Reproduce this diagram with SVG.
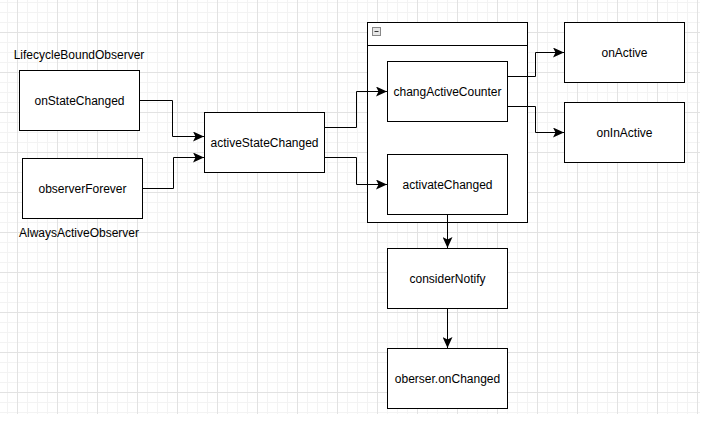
<svg xmlns="http://www.w3.org/2000/svg" width="710" height="434" viewBox="0 0 710 434">
<style>
.box{fill:#ffffff;stroke:#000000;stroke-width:1}
.t{font-family:"Liberation Sans",Arial,sans-serif;font-size:12px;fill:#000000;text-anchor:middle}
.e{fill:none;stroke:#000000;stroke-width:1}
</style>
<defs>
<pattern id="minor" x="7" y="2" width="10" height="10" patternUnits="userSpaceOnUse">
<path d="M0.5,0 V10 M0,0.5 H10" fill="none" stroke="#f3f3f3" stroke-width="1"/>
</pattern>
<pattern id="major" x="17" y="32" width="40" height="40" patternUnits="userSpaceOnUse">
<path d="M0.5,0 V40 M0,0.5 H40" fill="none" stroke="#e2e2e2" stroke-width="1"/>
</pattern>
<marker id="arr" viewBox="0 0 11 10" refX="11" refY="5" markerWidth="11" markerHeight="10" markerUnits="userSpaceOnUse" orient="auto">
<path d="M0,0 L11,5 L0,10 L2.5,5 Z" fill="#000000"/>
</marker>
</defs>
<rect x="0" y="0" width="710" height="434" fill="#ffffff"/>
<rect x="0" y="0" width="700" height="414" fill="url(#minor)"/>
<rect x="0" y="0" width="700" height="414" fill="url(#major)"/>

<g id="container">
<rect class="box" x="367.5" y="22.5" width="160" height="200"/>
<path class="e" d="M367.5,45.5 H527.5"/>
<rect x="372.5" y="27.5" width="8" height="8" fill="#e6e6e6" stroke="#888888" stroke-width="1"/>
<path d="M374.5,31.5 H378.5" stroke="#333333" stroke-width="1"/>
</g>

<g id="connectors">
<path class="e" d="M139.5,100.5 H172.5 V136.5 H204" marker-end="url(#arr)"/>
<path class="e" d="M142.5,188.5 H173.5 V157.5 H204" marker-end="url(#arr)"/>
<path class="e" d="M324.5,127.5 H356.5 V91.5 H387" marker-end="url(#arr)"/>
<path class="e" d="M324.5,157.5 H356.5 V184.5 H387" marker-end="url(#arr)"/>
<path class="e" d="M507.5,76.5 H535.5 V52.5 H564" marker-end="url(#arr)"/>
<path class="e" d="M507.5,106.5 H535.5 V132.5 H564" marker-end="url(#arr)"/>
<path class="e" d="M447.5,214.5 V248" marker-end="url(#arr)"/>
<path class="e" d="M447.5,308.5 V348" marker-end="url(#arr)"/>
</g>

<g id="label-lifecycle"><text class="t" x="79" y="58.5">LifecycleBoundObserver</text></g>
<g id="label-always"><text class="t" x="79" y="236.5">AlwaysActiveObserver</text></g>

<g id="onStateChanged"><rect class="box" x="19.5" y="70.5" width="120" height="60"/><text class="t" x="79.5" y="104.5">onStateChanged</text></g>
<g id="observerForever"><rect class="box" x="22.5" y="158.5" width="120" height="60"/><text class="t" x="82.5" y="192.5">observerForever</text></g>
<g id="activeStateChanged"><rect class="box" x="204.5" y="112.5" width="120" height="60"/><text class="t" x="264.5" y="146.5">activeStateChanged</text></g>
<g id="changActiveCounter"><rect class="box" x="387.5" y="61.5" width="120" height="60"/><text class="t" x="447.5" y="95.5">changActiveCounter</text></g>
<g id="activateChanged"><rect class="box" x="387.5" y="154.5" width="120" height="60"/><text class="t" x="447.5" y="188.5">activateChanged</text></g>
<g id="onActive"><rect class="box" x="564.5" y="22.5" width="120" height="60"/><text class="t" x="624.5" y="56.5">onActive</text></g>
<g id="onInActive"><rect class="box" x="564.5" y="102.5" width="120" height="60"/><text class="t" x="624.5" y="136.5">onInActive</text></g>
<g id="considerNotify"><rect class="box" x="387.5" y="248.5" width="120" height="60"/><text class="t" x="447.5" y="282.5">considerNotify</text></g>
<g id="oberserOnChanged"><rect class="box" x="387.5" y="348.5" width="120" height="60"/><text class="t" x="447.5" y="382.5">oberser.onChanged</text></g>
</svg>
